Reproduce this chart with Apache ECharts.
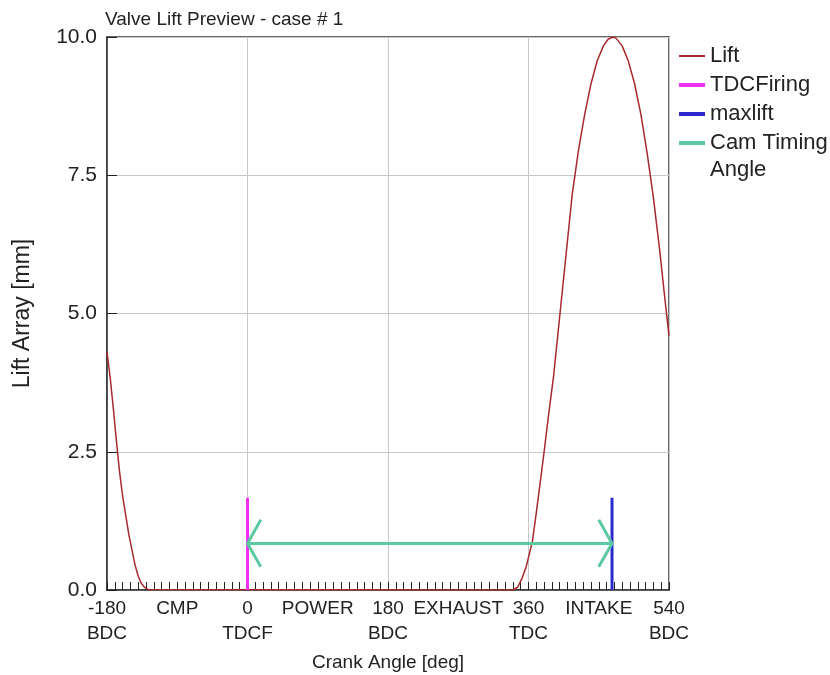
<!DOCTYPE html>
<html lang="en">
<head>
<meta charset="utf-8">
<title>Valve Lift Preview</title>
<script src="https://cdn.jsdelivr.net/npm/echarts@6/dist/echarts.min.js"></script>
<style>
html,body{margin:0;padding:0;background:#fff;}
#main{width:830px;height:675px;}
</style>
</head>
<body>
<div id="main"></div>
<script>
// lift curve (deg, mm)
var liftAngle = [-180,-176,-172,-168,-164,-160,-156,-152,-148,-144,-140,-136,-132,-128,-126,
  340,346,352,357,361,365,370,376,380,386,392,400,408,416,424,432,440,448,456,462,468,
  472,480,488,496,504,512,520,528,536,540];
var liftValue = [4.3,3.85,3.3,2.7,2.15,1.7,1.35,1.0,0.72,0.45,0.25,0.12,0.05,0.01,0,
  0,0.05,0.22,0.42,0.65,0.88,1.4,2.05,2.5,3.2,3.85,4.95,6.05,7.15,7.95,8.6,9.15,9.57,9.84,9.96,10.0,
  9.98,9.84,9.56,9.15,8.6,7.9,7.1,6.15,5.1,4.6];

var tdcAngle = 0;
var maxLiftAngle = 467;
var markerTop = 1.67;
var camLevel = 0.84;
var arrowArm = 17;      // deg
var arrowHigh = 1.27, arrowLow = 0.42;

var tickText = {
  '-180':'-180\nBDC', '-90':'CMP', '0':'0\nTDCF', '90':'POWER',
  '180':'180\nBDC', '270':'EXHAUST', '360':'360\nTDC', '450':'INTAKE', '540':'540\nBDC'
};

var liftData = [];
for (var i = 0; i < liftAngle.length; i++) liftData.push([liftAngle[i], liftValue[i]]);

var font = 'Liberation Sans, Arial, sans-serif';
var camColor = '#5cc8a0';

var chart = echarts.init(document.getElementById('main'));
chart.setOption({
  animation: false,
  textStyle: {fontFamily: font},
  title: {
    text: 'Valve Lift Preview - case # 1',
    left: 105, top: 10, padding: 0,
    textStyle: {fontSize: 19, fontWeight: 'normal', color: '#222', fontFamily: font}
  },
  grid: {left: 107, right: 161, top: 37, bottom: 85, show: true, outerBoundsMode: 'none',
    borderColor: '#333', borderWidth: 1.5, backgroundColor: '#fff'},
  legend: {
    orient: 'vertical', left: 679, top: 42, padding: 0, itemWidth: 26, itemHeight: 4, itemGap: 1,
    textStyle: {fontSize: 22, color: '#222', fontFamily: font, lineHeight: 28},
    data: [
      {name: 'Lift', icon: 'path://M0 0H26V2H0Z'},
      {name: 'TDCFiring', icon: 'rect'},
      {name: 'maxlift', icon: 'rect'},
      {name: 'Cam Timing Angle', icon: 'rect'}
    ],
    formatter: function (n) { return n === 'Cam Timing Angle' ? 'Cam Timing' : n; }
  },
  graphic: [{
    type: 'text', left: 710, top: 159,
    style: {text: 'Angle', fontSize: 22, fill: '#222', font: '22px Liberation Sans, Arial, sans-serif'}
  }],
  xAxis: [{
    type: 'value', min: -180, max: 540, interval: 10,
    name: 'Crank Angle [deg]', nameLocation: 'middle', nameGap: 63,
    nameTextStyle: {fontSize: 19, color: '#222'},
    axisLine: {show: true, onZero: false, lineStyle: {color: '#333', width: 1.5}},
    axisTick: {show: true, inside: true, length: 8, lineStyle: {color: '#222', width: 1}},
    axisLabel: {interval: 0, fontSize: 19, color: '#222', lineHeight: 25, margin: 6,
      showMinLabel: true, showMaxLabel: true,
      formatter: function (v) { return tickText[String(v)] || ''; }},
    splitLine: {show: false}
  }, {
    type: 'value', min: -180, max: 540, interval: 180, position: 'top',
    axisLine: {show: false}, axisTick: {show: false}, axisLabel: {show: false},
    splitLine: {show: true, lineStyle: {color: '#c8c8c8', width: 1}}
  }],
  yAxis: {
    type: 'value', min: 0, max: 10, interval: 2.5,
    name: 'Lift Array [mm]', nameLocation: 'middle', nameGap: 73,
    nameTextStyle: {fontSize: 23, color: '#222'},
    axisLine: {show: true, onZero: false, lineStyle: {color: '#333', width: 1.5}},
    axisTick: {show: true, inside: true, length: 10, lineStyle: {color: '#222'}},
    axisLabel: {fontSize: 21, color: '#222', margin: 10,
      formatter: function (v) { return v.toFixed(1); }},
    splitLine: {show: true, lineStyle: {color: '#c8c8c8', width: 1}}
  },
  series: [
    {name: 'Lift', type: 'line', data: liftData, symbol: 'none',
      lineStyle: {color: '#a8282c', width: 1.5}, itemStyle: {color: '#a8282c'}},
    {name: 'TDCFiring', type: 'line', data: [[tdcAngle, 0], [tdcAngle, markerTop]], symbol: 'none',
      lineStyle: {color: '#f030f0', width: 3}, itemStyle: {color: '#f030f0'}},
    {name: 'maxlift', type: 'line', data: [[maxLiftAngle, 0], [maxLiftAngle, markerTop]], symbol: 'none',
      lineStyle: {color: '#2a2acc', width: 3}, itemStyle: {color: '#2a2acc'}},
    {name: 'Cam Timing Angle', type: 'line', symbol: 'none',
      data: [[tdcAngle, camLevel], [maxLiftAngle, camLevel]],
      lineStyle: {color: camColor, width: 3}, itemStyle: {color: camColor}},
    {name: 'Cam Timing Angle', type: 'line', symbol: 'none',
      data: [[tdcAngle + arrowArm, arrowHigh], [tdcAngle, camLevel], [tdcAngle + arrowArm, arrowLow]],
      lineStyle: {color: camColor, width: 3}, itemStyle: {color: camColor}},
    {name: 'Cam Timing Angle', type: 'line', symbol: 'none',
      data: [[maxLiftAngle - arrowArm, arrowHigh], [maxLiftAngle, camLevel], [maxLiftAngle - arrowArm, arrowLow]],
      lineStyle: {color: camColor, width: 3}, itemStyle: {color: camColor}}
  ]
});
</script>
</body>
</html>
